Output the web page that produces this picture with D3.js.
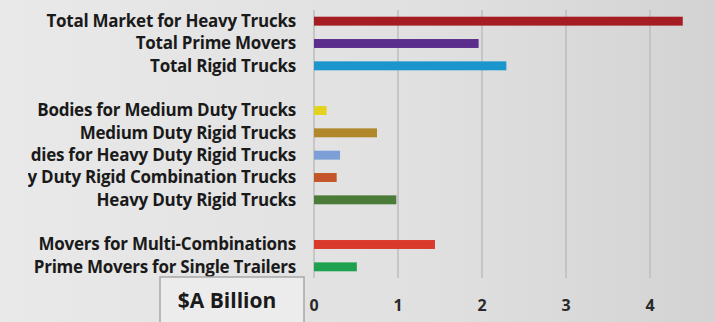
<!DOCTYPE html>
<html>
  <head>
    <script src="https://d3js.org/d3.v7.min.js"></script>
    <style>
      body { margin: 0; }
      svg { display: block; }
    </style>
  </head>
  <body>
    <div id="chart"></div>

    <script>
      // blank entries are spacer rows between the groups;
      // three labels are cut off on the left in the original slide, kept as shown
      const categories = [
        "Total Market for Heavy Trucks",
        "Total Prime Movers",
        "Total Rigid Trucks",
        "",
        "Bodies for Medium Duty Trucks",
        "Medium Duty Rigid Trucks",
        "dies for Heavy Duty Rigid Trucks",
        "y Duty Rigid Combination Trucks",
        "Heavy Duty Rigid Trucks",
        " ",
        "Movers for Multi-Combinations",
        "Prime Movers for Single Trailers"
      ];
      const values = [4.39, 1.96, 2.29, null, 0.15, 0.75, 0.31, 0.27, 0.98, null, 1.44, 0.51];
      const barColors = ["#a51d22", "#5b2d8c", "#1a96cd", null, "#e3d31e", "#b0872a", "#7b9fd6",
                         "#c4552a", "#4b7b38", null, "#d93a2b", "#1ea24f"];
      const ticks = [0, 1, 2, 3, 4];
      const unitLabel = "$A Billion";

      const width = 715;
      const height = 322;
      const margin = { top: 10, right: 30, bottom: 44, left: 314 };

      const svg = d3.select("#chart")
        .append("svg")
        .attr("width", width)
        .attr("height", height);

      const defs = svg.append("defs");
      const grad = defs.append("linearGradient")
        .attr("id", "bg")
        .attr("x1", 0).attr("x2", 1).attr("y1", 0).attr("y2", 0);
      grad.append("stop").attr("offset", "0%").attr("stop-color", "#e9e9e9");
      grad.append("stop").attr("offset", "60%").attr("stop-color", "#e0e0e0");
      grad.append("stop").attr("offset", "100%").attr("stop-color", "#d3d3d3");
      defs.append("clipPath").attr("id", "labelClip")
        .append("rect").attr("x", 28).attr("y", 0).attr("width", 290).attr("height", height);
      svg.append("rect").attr("width", width).attr("height", height).attr("fill", "url(#bg)");

      const xScale = d3.scaleLinear()
        .domain([0, 4])
        .range([margin.left, margin.left + 84 * 4]);
      const yScale = d3.scaleBand()
        .domain(categories)
        .range([margin.top, height - margin.bottom])
        .paddingInner(0.6)
        .paddingOuter(0.3);

      // gridlines
      svg.append("g")
        .selectAll("line")
        .data(ticks)
        .enter()
        .append("line")
        .attr("x1", d => xScale(d))
        .attr("x2", d => xScale(d))
        .attr("y1", margin.top)
        .attr("y2", height - margin.bottom)
        .attr("stroke", "#bdbdbd")
        .attr("stroke-width", 1.5);

      const rows = categories.map((c, i) => ({ c, v: values[i], color: barColors[i] }));

      svg.append("g")
        .selectAll("rect")
        .data(rows.filter(d => d.v != null))
        .enter()
        .append("rect")
        .attr("x", xScale(0))
        .attr("y", d => yScale(d.c))
        .attr("width", d => xScale(d.v) - xScale(0))
        .attr("height", yScale.bandwidth())
        .attr("fill", d => d.color);

      // category labels
      svg.append("g")
        .attr("clip-path", "url(#labelClip)")
        .selectAll("text")
        .data(rows.filter(d => d.v != null))
        .enter()
        .append("text")
        .attr("x", 296)
        .attr("y", d => yScale(d.c) + yScale.bandwidth() / 2)
        .attr("dy", "0.35em")
        .attr("text-anchor", "end")
        .style("font-family", "'Open Sans', sans-serif")
        .style("font-weight", "700")
        .style("font-size", "17px")
        .style("letter-spacing", "-0.25px")
        .attr("fill", "#1a1a1a")
        .text(d => d.c);

      // x tick labels
      svg.append("g")
        .selectAll("text")
        .data(ticks)
        .enter()
        .append("text")
        .attr("x", d => xScale(d))
        .attr("y", 305)
        .attr("dy", "0.35em")
        .attr("text-anchor", "middle")
        .style("font-family", "'Open Sans', sans-serif")
        .style("font-weight", "700")
        .style("font-size", "16px")
        .attr("fill", "#2a2a2a")
        .text(d => d);

      // unit box
      svg.append("rect")
        .attr("x", 160)
        .attr("y", 277)
        .attr("width", 144)
        .attr("height", 50)
        .attr("fill", "#ececec")
        .attr("stroke", "#a8a8a8")
        .attr("stroke-width", 1.5);
      svg.append("text")
        .attr("x", 227)
        .attr("y", 301)
        .attr("dy", "0.35em")
        .attr("text-anchor", "middle")
        .style("font-family", "'Open Sans', sans-serif")
        .style("font-weight", "700")
        .style("font-size", "21px")
        .attr("fill", "#1a1a1a")
        .text(unitLabel);
    </script>
  </body>
</html>
